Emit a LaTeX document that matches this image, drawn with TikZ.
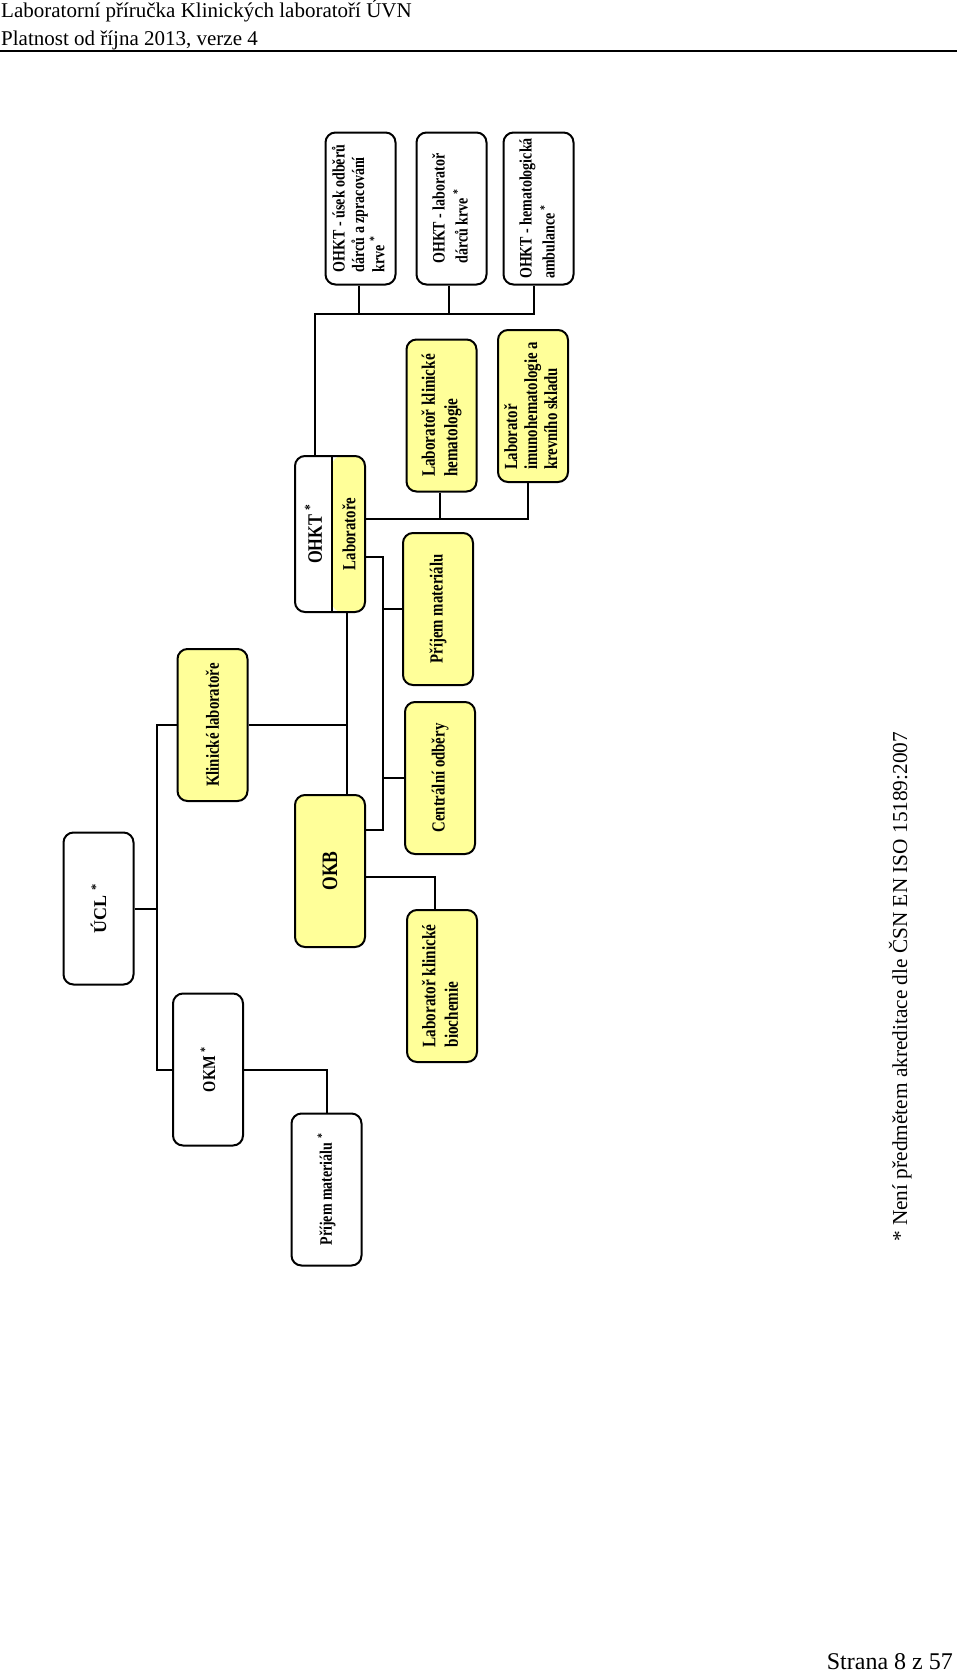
\documentclass[tikz,border=0pt]{standalone}
\usepackage{fontspec}
\setmainfont{Liberation Serif}
\newfontfamily\boxfont[FakeStretch=0.8]{Liberation Serif}
\usepackage{graphicx}
\usetikzlibrary{positioning}
\definecolor{labyellow}{RGB}{255,255,153}
\newcommand{\rotlines}[1]{\rotatebox{90}{\begin{tabular}{@{}l@{}}#1\end{tabular}}}
\newcommand{\rottext}[1]{\rotatebox{90}{#1}}

\begin{document}
\begin{tikzpicture}[
  x=1pt, y=1pt,
  wbox/.style={draw, line width=2pt, rounded corners=10pt, fill=white,
               minimum width=70pt, minimum height=152pt, inner sep=0pt,
               font=\boxfont\bfseries\fontsize{19}{22.5}\selectfont},
  ybox/.style={wbox, fill=labyellow},
  lbl/.style={inner sep=0pt, font=\boxfont\bfseries\fontsize{18.5}{22.5}\selectfont},
  conn/.style={line width=2pt}
]
\useasboundingbox (0,0) rectangle (960,-1673);

% page header and footer
\node[anchor=base west, inner sep=0pt, font=\fontsize{21}{25}\selectfont] (hdr1) at (1,-17.5)
  {Laboratorní příručka Klinických laboratoří ÚVN};
\node[anchor=base west, inner sep=0pt, font=\fontsize{21}{25}\selectfont] (hdr2) at (1,-45)
  {Platnost od října 2013, verze 4};
\draw[line width=2pt] (0,-50.5) -- (957,-50.5);
\node[anchor=base east, inner sep=0pt, font=\fontsize{24}{28}\selectfont] (pg) at (953,-1669)
  {Strana 8 z 57};
\node[rotate=90, anchor=base west, inner sep=0pt, font=\fontsize{21.3}{25}\selectfont] (note)
  at (907,-1242) {* Není předmětem akreditace dle ČSN EN ISO 15189:2007};

% UCL and OKM
\node[wbox, font=\bfseries\fontsize{18}{22}\selectfont] (ucl) at (98.5,-908.5)
  {\rottext{ÚCL \textsuperscript{*}}};
\node[wbox, font=\boxfont\bfseries\fontsize{18}{22}\selectfont] (okm) at (208,-1069.5)
  {\rottext{OKM \textsuperscript{*}}};
\node[wbox, font=\boxfont\bfseries\fontsize{17.5}{20}\selectfont] (prijokm) at (326.5,-1189.5)
  {\rottext{Příjem materiálu \textsuperscript{*}}};

% clinical laboratories
\node[ybox, font=\boxfont\bfseries\fontsize{18.5}{22}\selectfont] (klin) at (212.5,-725)
  {\rottext{Klinické laboratoře}};
\node[ybox, font=\boxfont\bfseries\fontsize{22}{26}\selectfont] (okb) at (330,-871)
  {\rottext{OKB}};
\node[ybox] (biochem) at (442,-986) {\rotlines{Laboratoř klinické\\biochemie}};
\node[ybox, font=\boxfont\bfseries\fontsize{18.5}{22}\selectfont] (prijem) at (438,-609)
  {\rottext{Příjem materiálu}};
\node[ybox, below=15pt of prijem, xshift=2pt, font=\boxfont\bfseries\fontsize{18.5}{22}\selectfont]
  (centr) {\rottext{Centrální odběry}};

% OHKT with its laboratories
\node[wbox, minimum height=156pt,
      path picture={
        \fill[labyellow] ([xshift=2pt]path picture bounding box.south)
          rectangle (path picture bounding box.north east);
        \draw[line width=2pt] ([xshift=2pt]path picture bounding box.south)
          -- ([xshift=2pt]path picture bounding box.north);
      }] (ohkt) at (330,-534) {};
\node[lbl, font=\boxfont\bfseries\fontsize{20.5}{24}\selectfont] (ohktname)
  at ([xshift=-16.5pt]ohkt.center) {\rottext{OHKT \textsuperscript{*}}};
\node[lbl] (ohktlab) at ([xshift=19pt]ohkt.center) {\rottext{Laboratoře}};

\node[ybox] (hemat) at (441.5,-415.5) {\rotlines{Laboratoř klinické\\hematologie}};
\node[ybox, font=\boxfont\bfseries\fontsize{18.5}{20}\selectfont] (imuno) at (533,-406)
  {\rotlines{Laboratoř\\imunohematologie a\\krevního skladu}};

\node[wbox, font=\boxfont\bfseries\fontsize{17.5}{19.5}\selectfont] (top1) at (360.5,-208.5)
  {\rotlines{OHKT - úsek odběrů\\dárců a zpracování\\krve \textsuperscript{*}}};
\node[wbox, right=19pt of top1, font=\boxfont\bfseries\fontsize{17.5}{23}\selectfont] (top2)
  {\rotlines{OHKT - laboratoř\\dárců krve \textsuperscript{*}}};
\node[wbox, right=15pt of top2, font=\boxfont\bfseries\fontsize{17.5}{23}\selectfont] (top3)
  {\rotlines{OHKT - hematologická\\ambulance \textsuperscript{*}}};

% connectors
\draw[conn] (ucl.east) -- ++(22.5,0) coordinate (j1);
\draw[conn] (klin.west) -| (j1) |- (okm.west);
\draw[conn] (okm.east) -| (prijokm.north);

\draw[conn] ([xshift=17pt]ohkt.south) coordinate (j2) -- ([xshift=17pt]okb.north);
\draw[conn] (klin.east) -- (klin.east -| j2);

\draw[conn] ([yshift=-23pt]ohkt.east) -- ++(17,0) coordinate (j3) |- ([yshift=41pt]okb.east);
\draw[conn] (prijem.west -| j3) -- (prijem.west);
\draw[conn] (centr.west -| j3) -- (centr.west);
\draw[conn] ([yshift=-6pt]okb.east) -| ([xshift=-7pt]biochem.north);

\draw[conn] ([yshift=15pt]ohkt.east) coordinate (j4) -| ([xshift=-5pt]imuno.south);
\draw[conn] ([xshift=-2pt]hemat.south) -- ([xshift=-2pt]hemat.south |- j4);

\draw[conn] ([xshift=-15pt]ohkt.north) -- ++(0,141) coordinate (j5) -| ([xshift=-5pt]top3.south);
\foreach \n/\dx in {top1/-2, top2/-3}
  \draw[conn] ([xshift=\dx pt]\n.south) -- ([xshift=\dx pt]\n.south |- j5);
\end{tikzpicture}
\end{document}
